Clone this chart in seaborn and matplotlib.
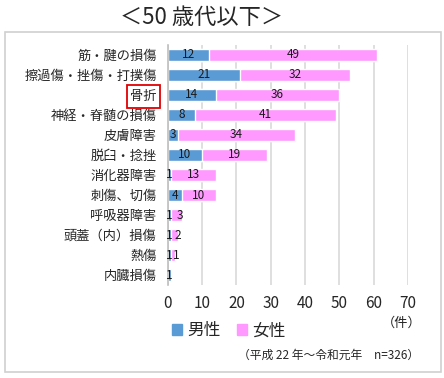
import numpy as np
import pandas as pd
import matplotlib
matplotlib.use("Agg")
import matplotlib.pyplot as plt
import matplotlib.patches as mpatches
import seaborn as sns

categories = ["筋・腱の損傷", "擦過傷・挫傷・打撲傷", "骨折", "神経・脊髄の損傷", "皮膚障害",
              "脱臼・捻挫", "消化器障害", "刺傷、切傷", "呼吸器障害", "頭蓋（内）損傷",
              "熱傷", "内臓損傷"]
male = [12, 21, 14, 8, 3, 10, 1, 4, 1, 1, 1, 1]
female = [49, 32, 36, 41, 34, 19, 13, 10, 3, 2, 1, 0]
xticks = [0, 10, 20, 30, 40, 50, 60, 70]

c_male = "#5B9BD5"
c_female = "#FF99FF"

sns.set_style("white")
plt.rcParams["font.family"] = ["Noto Sans CJK JP", "DejaVu Sans"]

df = pd.DataFrame({"cat": categories, "male": male, "female": female})
df["total"] = df["male"] + df["female"]

fig = plt.figure(figsize=(4.44, 3.78), dpi=100)
ax = fig.add_axes([0.378, 0.246, 0.541, 0.635])

sns.barplot(data=df, y="cat", x="total", color=c_female, orient="h", width=0.62,
            saturation=1, ax=ax)
sns.barplot(data=df, y="cat", x="male", color=c_male, orient="h", width=0.62,
            saturation=1, ax=ax)

# value labels, small ones nudged apart
for i, (m, f) in enumerate(zip(male, female)):
    if m > 0:
        mx = m / 2 if m > 2 else 0.35
        ax.text(mx, i, str(m), ha="center", va="center", fontsize=8.5,
                color="#1a1a1a")
    if f > 0:
        fx = m + f / 2 if f >= 4 else m + f / 2 + 0.9
        ax.text(fx, i, str(f), ha="center", va="center", fontsize=8.5,
                color="#1a1a1a")

ax.set_xlim(0, 70)
ax.set_xticks(xticks)
ax.set_xticklabels([str(t) for t in xticks], fontsize=11)
ax.tick_params(axis="x", length=0, pad=7)
ax.tick_params(axis="y", length=0, pad=8, labelsize=9.5)
ax.set_xlabel("")
ax.set_ylabel("")
ax.grid(axis="x", color="#d9d9d9", linewidth=1.2)
ax.set_axisbelow(True)
for s in ["top", "right", "bottom"]:
    ax.spines[s].set_visible(False)
ax.spines["left"].set_color("#bfbfbf")
ax.spines["left"].set_linewidth(1.2)

# red box around 骨折
lbl = ax.get_yticklabels()[2]
fig.canvas.draw()
bb = lbl.get_window_extent().transformed(fig.transFigure.inverted())
fig.patches.append(mpatches.Rectangle((bb.x0 - 0.008, bb.y0 - 0.012),
                                      bb.width + 0.016, bb.height + 0.024,
                                      transform=fig.transFigure, fill=False,
                                      edgecolor="#e00000", linewidth=1.3))

# outer frame
fig.patches.append(mpatches.Rectangle((5 / 444, 6 / 378), 436 / 444, 340 / 378,
                                      transform=fig.transFigure, fill=False,
                                      edgecolor="#d0d0d0", linewidth=1.2))

fig.text(0.455, 0.955, "＜50 歳代以下＞", ha="center", va="center", fontsize=16,
         bbox=dict(facecolor="white", edgecolor="none", pad=2))
fig.text(0.905, 0.145, "（件）", ha="center", va="center", fontsize=9.5)

handles = [mpatches.Patch(color=c_male, label="男性"),
           mpatches.Patch(color=c_female, label="女性")]
fig.legend(handles=handles, loc="center", bbox_to_anchor=(0.515, 0.125), ncol=2,
           frameon=False, fontsize=12, handlelength=0.6, handleheight=0.6,
           handletextpad=0.3, columnspacing=1.0)

fig.text(0.945, 0.06, "（平成 22 年～令和元年　n=326）", ha="right", va="center",
         fontsize=8.5)

fig.savefig("out.png", dpi=100)
